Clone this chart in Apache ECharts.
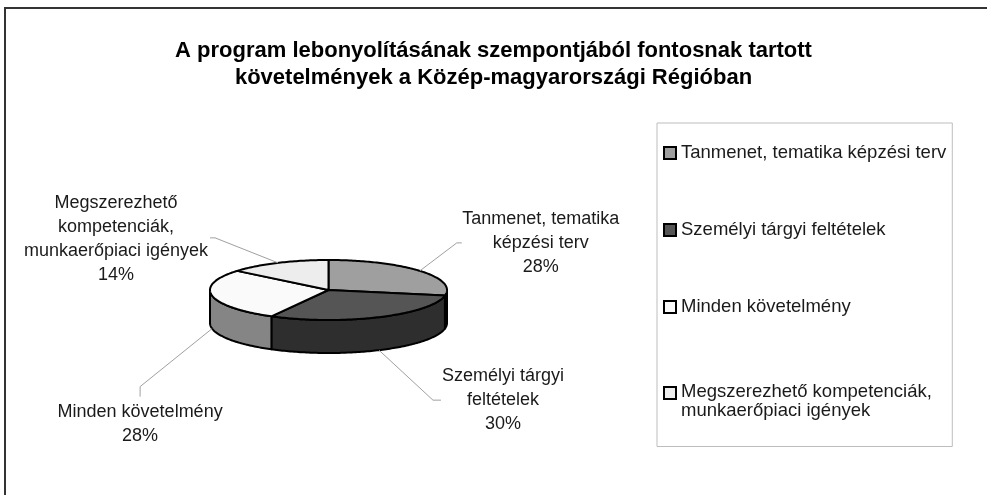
<!DOCTYPE html>
<html>
<head>
<meta charset="utf-8">
<title>Követelmények a Közép-magyarországi Régióban</title>
<script src="https://cdn.jsdelivr.net/npm/echarts@6/dist/echarts.min.js"></script>
<style>
  html, body { margin: 0; padding: 0; background: #fff; }
  #chart { width: 987px; height: 495px; }
</style>
</head>
<body>
<div id="chart"></div>
<script>
// adatok
var categories = ['Tanmenet, tematika képzési terv', 'Személyi tárgyi feltételek', 'Minden követelmény', 'Megszerezhető kompetenciák, munkaerőpiaci igények'];
var values = [28, 30, 28, 14];
var labelTexts = ['Tanmenet, tematika\nképzési terv', 'Személyi tárgyi\nfeltételek', 'Minden követelmény', 'Megszerezhető\nkompetenciák,\nmunkaerőpiaci igények'];
var legendTexts = ['Tanmenet, tematika képzési terv', 'Személyi tárgyi feltételek', 'Minden követelmény', '{a|Megszerezhető kompetenciák,}\n{b|munkaerőpiaci igények}'];

// megjelenés
var topColors = ['#9f9f9f', '#555555', '#fafafa', '#ededed'];
var sideColors = ['#707070', '#2e2e2e', '#858585', '#a8a8a8'];
var pie = { cx: 328.5, cy: 290, rx: 118.5, ry: 30, depth: 33 };
// címke középpontja és vezetővonal töréspontjai a szelet széléhez képest
var labelOffsets = [[121, -28], [124, 50], [-72, 95], [-162, -24]];
var leaderOffsets = [[[37, -28], [42, -28]], [[54, 50], [62, 50]], [[-72, 58], [-72, 68]], [[-63, -25], [-68, -25]]];
var FONT = '"Liberation Sans", Arial, sans-serif';

var total = values.reduce(function (a, b) { return a + b; }, 0);

function pt(deg, dy) {
  var r = deg * Math.PI / 180;
  return [pie.cx + pie.rx * Math.sin(r), pie.cy - pie.ry * Math.cos(r) + (dy || 0)];
}
function arc(a0, a1, dy) {
  var pts = [];
  var n = Math.max(2, Math.ceil(Math.abs(a1 - a0)));
  for (var k = 0; k <= n; k++) pts.push(pt(a0 + (a1 - a0) * k / n, dy));
  return pts;
}

function renderSlice(i) {
  return function (params, api) {
    var before = 0;
    for (var j = 0; j < i; j++) before += values[j];
    var v = api.value(0);
    var a0 = before / total * 360, a1 = (before + v) / total * 360;
    var children = [];
    // oldalfal (csak az elülső fél látszik)
    var s = Math.max(a0, 90), e = Math.min(a1, 270);
    if (e > s) {
      children.push({
        type: 'polygon',
        shape: { points: arc(s, e, 0).concat(arc(e, s, pie.depth)) },
        style: { fill: sideColors[i], stroke: '#000', lineWidth: 2, lineJoin: 'round' }
      });
    }
    // teteje
    children.push({
      type: 'polygon',
      shape: { points: [[pie.cx, pie.cy]].concat(arc(a0, a1, 0)) },
      style: { fill: topColors[i], stroke: '#000', lineWidth: 2, lineJoin: 'round' }
    });
    var mid = (a0 + a1) / 2;
    var anchor = pt(mid, Math.cos(mid * Math.PI / 180) < 0 ? pie.depth : 0);
    var lo = leaderOffsets[i];
    children.push({
      type: 'polyline',
      shape: { points: [anchor, [anchor[0] + lo[0][0], anchor[1] + lo[0][1]], [anchor[0] + lo[1][0], anchor[1] + lo[1][1]]] },
      style: { stroke: '#a0a0a0', lineWidth: 1, fill: null }
    });
    children.push({
      type: 'text',
      style: {
        text: labelTexts[i] + '\n' + Math.round(v / total * 100) + '%',
        x: anchor[0] + labelOffsets[i][0],
        y: anchor[1] + labelOffsets[i][1],
        align: 'center',
        verticalAlign: 'middle',
        font: '18px ' + FONT,
        lineHeight: 24,
        fill: '#1a1a1a'
      }
    });
    return { type: 'group', children: children };
  };
}

var myChart = echarts.init(document.getElementById('chart'));
myChart.setOption({
  animation: false,
  backgroundColor: '#fff',
  title: {
    text: 'A program lebonyolításának szempontjából fontosnak tartott\nkövetelmények a Közép-magyarországi Régióban',
    left: 'center',
    top: 37,
    padding: 0,
    textStyle: { fontFamily: FONT, fontSize: 22, fontWeight: 'bold', color: '#000', lineHeight: 27 }
  },
  legend: {
    orient: 'vertical',
    left: 657,
    top: 123,
    padding: [20, 6, 26, 6],
    borderColor: '#bdbdbd',
    borderWidth: 1,
    itemWidth: 12,
    itemHeight: 12,
    itemGap: 57,
    icon: 'rect',
    itemStyle: { borderColor: '#000', borderWidth: 2 },
    data: categories,
    formatter: function (name) { return legendTexts[categories.indexOf(name)]; },
    textStyle: {
      fontFamily: FONT, fontSize: 18.5, color: '#1a1a1a', lineHeight: 20,
      rich: {
        a: { fontFamily: FONT, fontSize: 18.5, color: '#1a1a1a', lineHeight: 36 },
        b: { fontFamily: FONT, fontSize: 18.5, color: '#1a1a1a', lineHeight: 2 }
      }
    }
  },
  graphic: [{
    type: 'rect',
    shape: { x: 5, y: 8, width: 1000, height: 500 },
    style: { fill: null, stroke: '#333', lineWidth: 2 },
    silent: true
  }],
  series: categories.map(function (name, i) {
    return {
      type: 'custom',
      name: name,
      coordinateSystem: 'none',
      silent: true,
      itemStyle: { color: topColors[i] },
      data: [values[i]],
      renderItem: renderSlice(i)
    };
  })
});
window.onresize = myChart.resize;
</script>
</body>
</html>
